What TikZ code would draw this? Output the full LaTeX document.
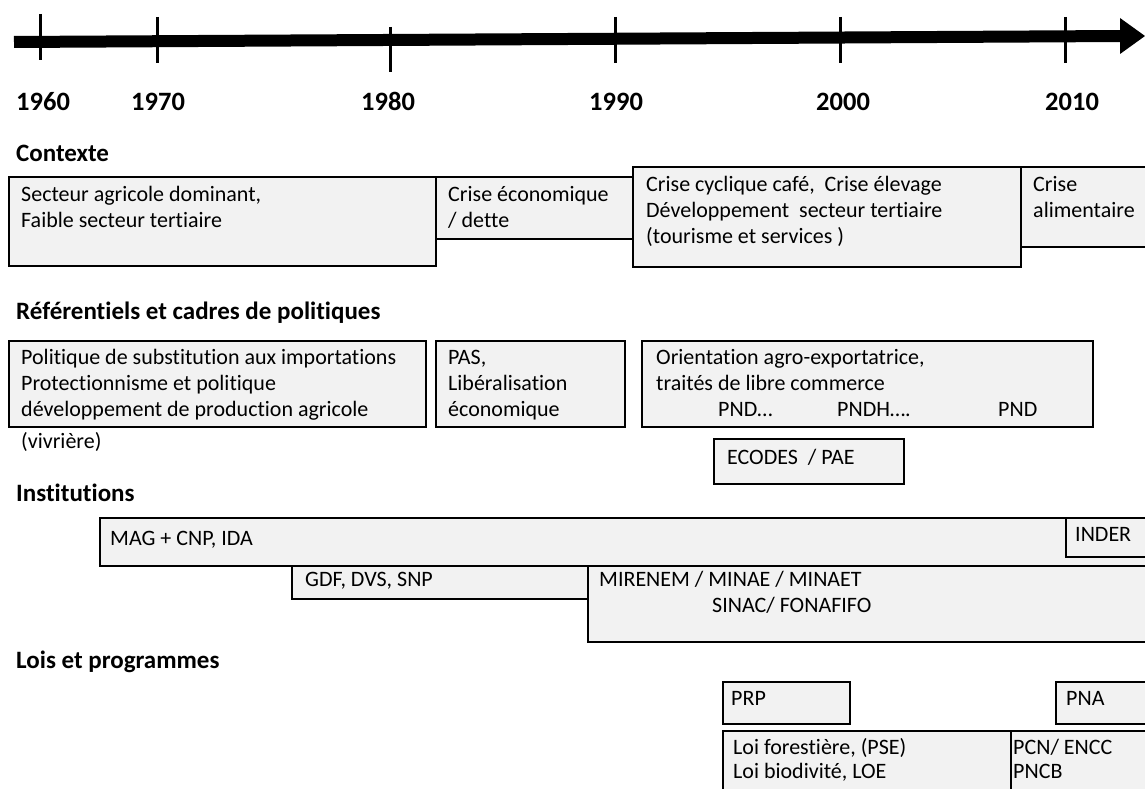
\documentclass[tikz,border=0pt]{standalone}
\usepackage{fontspec}
\setmainfont{Carlito}[Ligatures=NoCommon,RawFeature=-liga]
\begin{document}
\begin{tikzpicture}[x=1pt,y=-1pt,
  boxs/.style={draw=black,line width=2.4pt,fill=black!5},
  txt/.style={anchor=mid west,inner sep=0pt,font=\fontsize{22}{27}\selectfont},
  head/.style={anchor=mid west,inner sep=0pt,font=\fontsize{25}{30}\selectfont\bfseries},
  year/.style={anchor=mid west,inner sep=0pt,font=\fontsize{26.5}{30}\selectfont\bfseries},
  tick/.style={line width=3pt}]
\useasboundingbox (0,0) rectangle (1145,789);
\clip (0,0) rectangle (1145,789);
% axis
\coordinate (a0) at (14,42);
\coordinate (a1) at (1122,36);
\draw[line width=12pt] (a0) -- (a1);
\fill (1120,18) -- (1145,36) -- (1120,54) -- cycle;
\draw[tick] (40,14) -- (40,60);
\draw[tick] (157,17) -- (157,63);
\draw[tick] (390,27) -- (390,72);
\draw[tick] (615,17) -- (615,63);
\draw[tick] (840,17) -- (840,63);
\draw[tick] (1065,17) -- (1065,63);
\node[year] (y1960) at (16,108) {1960};
\node[year] (y1970) at (131,108) {1970};
\node[year] (y1980) at (361,108) {1980};
\node[year] (y1990) at (589,108) {1990};
\node[year] (y2000) at (816,108) {2000};
\node[year] (y2010) at (1045,108) {2010};
% Contexte
\node[head] (hc) at (16,159) {Contexte};
\draw[boxs] (9,177) rectangle (436,266);
\draw[boxs] (436,177) rectangle (633,239);
\draw[boxs] (1021,167) rectangle (1150,247);
\draw[boxs] (633,167) rectangle (1021,267);
\node[txt] (c1a) at (21,199) {Secteur agricole dominant,};
\node[txt] (c1b) at (21,225) {Faible secteur tertiaire};
\node[txt] (c2a) at (448,199) {Crise économique};
\node[txt] (c2b) at (448,225) {/ dette};
\node[txt] (c3a) at (646,189) {Crise cyclique café,~ Crise élevage};
\node[txt] (c3b) at (646,215) {Développement~ secteur tertiaire};
\node[txt] (c3c) at (646,241) {(tourisme et services )};
\node[txt] (c4a) at (1033,189) {Crise};
\node[txt] (c4b) at (1033,215) {alimentaire};
% Referentiels
\node[head] (hr) at (16,317) {Référentiels et cadres de politiques};
\draw[boxs] (9,341) rectangle (426,427);
\draw[boxs] (436,341) rectangle (625,427);
\draw[boxs] (642,341) rectangle (1093,427);
\draw[boxs] (714,439) rectangle (904,484);
\node[txt] (r1a) at (21,362) {Politique de substitution aux importations};
\node[txt] (r1b) at (21,388) {Protectionnisme et politique};
\node[txt] (r1c) at (21,414) {développement de production agricole};
\node[txt] (r1d) at (21,446) {(vivrière)};
\node[txt] (r2a) at (448,362) {PAS,};
\node[txt] (r2b) at (448,388) {Libéralisation};
\node[txt] (r2c) at (448,414) {économique};
\node[txt] (r3a) at (656,362) {Orientation agro-exportatrice,};
\node[txt] (r3b) at (656,388) {traités de libre commerce};
\node[txt] (r3c) at (718,414) {PND…};
\node[txt] (r3d) at (837,414) {PNDH….};
\node[txt] (r3e) at (998,414) {PND};
\node[txt] (r4) at (727,462) {ECODES~ / PAE};
% Institutions
\node[head] (hi) at (16,499) {Institutions};
\draw[boxs] (100,518) rectangle (1150,566);
\draw[boxs] (1066,518) rectangle (1150,557);
\draw[boxs] (292,566) rectangle (588,599);
\draw[boxs] (588,566) rectangle (1150,642);
\node[txt] (i1) at (110,543) {MAG + CNP, IDA};
\node[txt] (i2) at (1075,539) {INDER};
\node[txt] (i3) at (305,584) {GDF, DVS, SNP};
\node[txt] (i4a) at (599,584) {MIRENEM / MINAE / MINAET};
\node[txt] (i4b) at (712,610) {SINAC/ FONAFIFO};
% Lois
\node[head] (hl) at (16,666) {Lois et programmes};
\draw[boxs] (723,682) rectangle (850,724);
\draw[boxs] (1056,682) rectangle (1150,724);
\draw[boxs] (723,731) rectangle (1011,800);
\draw[boxs] (1011,731) rectangle (1150,800);
\node[txt] (l1) at (731,703) {PRP};
\node[txt] (l2) at (1066,703) {PNA};
\node[txt] (l3a) at (733,752) {Loi forestière, (PSE)};
\node[txt] (l3b) at (733,776) {Loi biodivité, LOE};
\node[txt] (l4a) at (1013,752) {PCN/ ENCC};
\node[txt] (l4b) at (1013,776) {PNCB};
\end{tikzpicture}
\end{document}
